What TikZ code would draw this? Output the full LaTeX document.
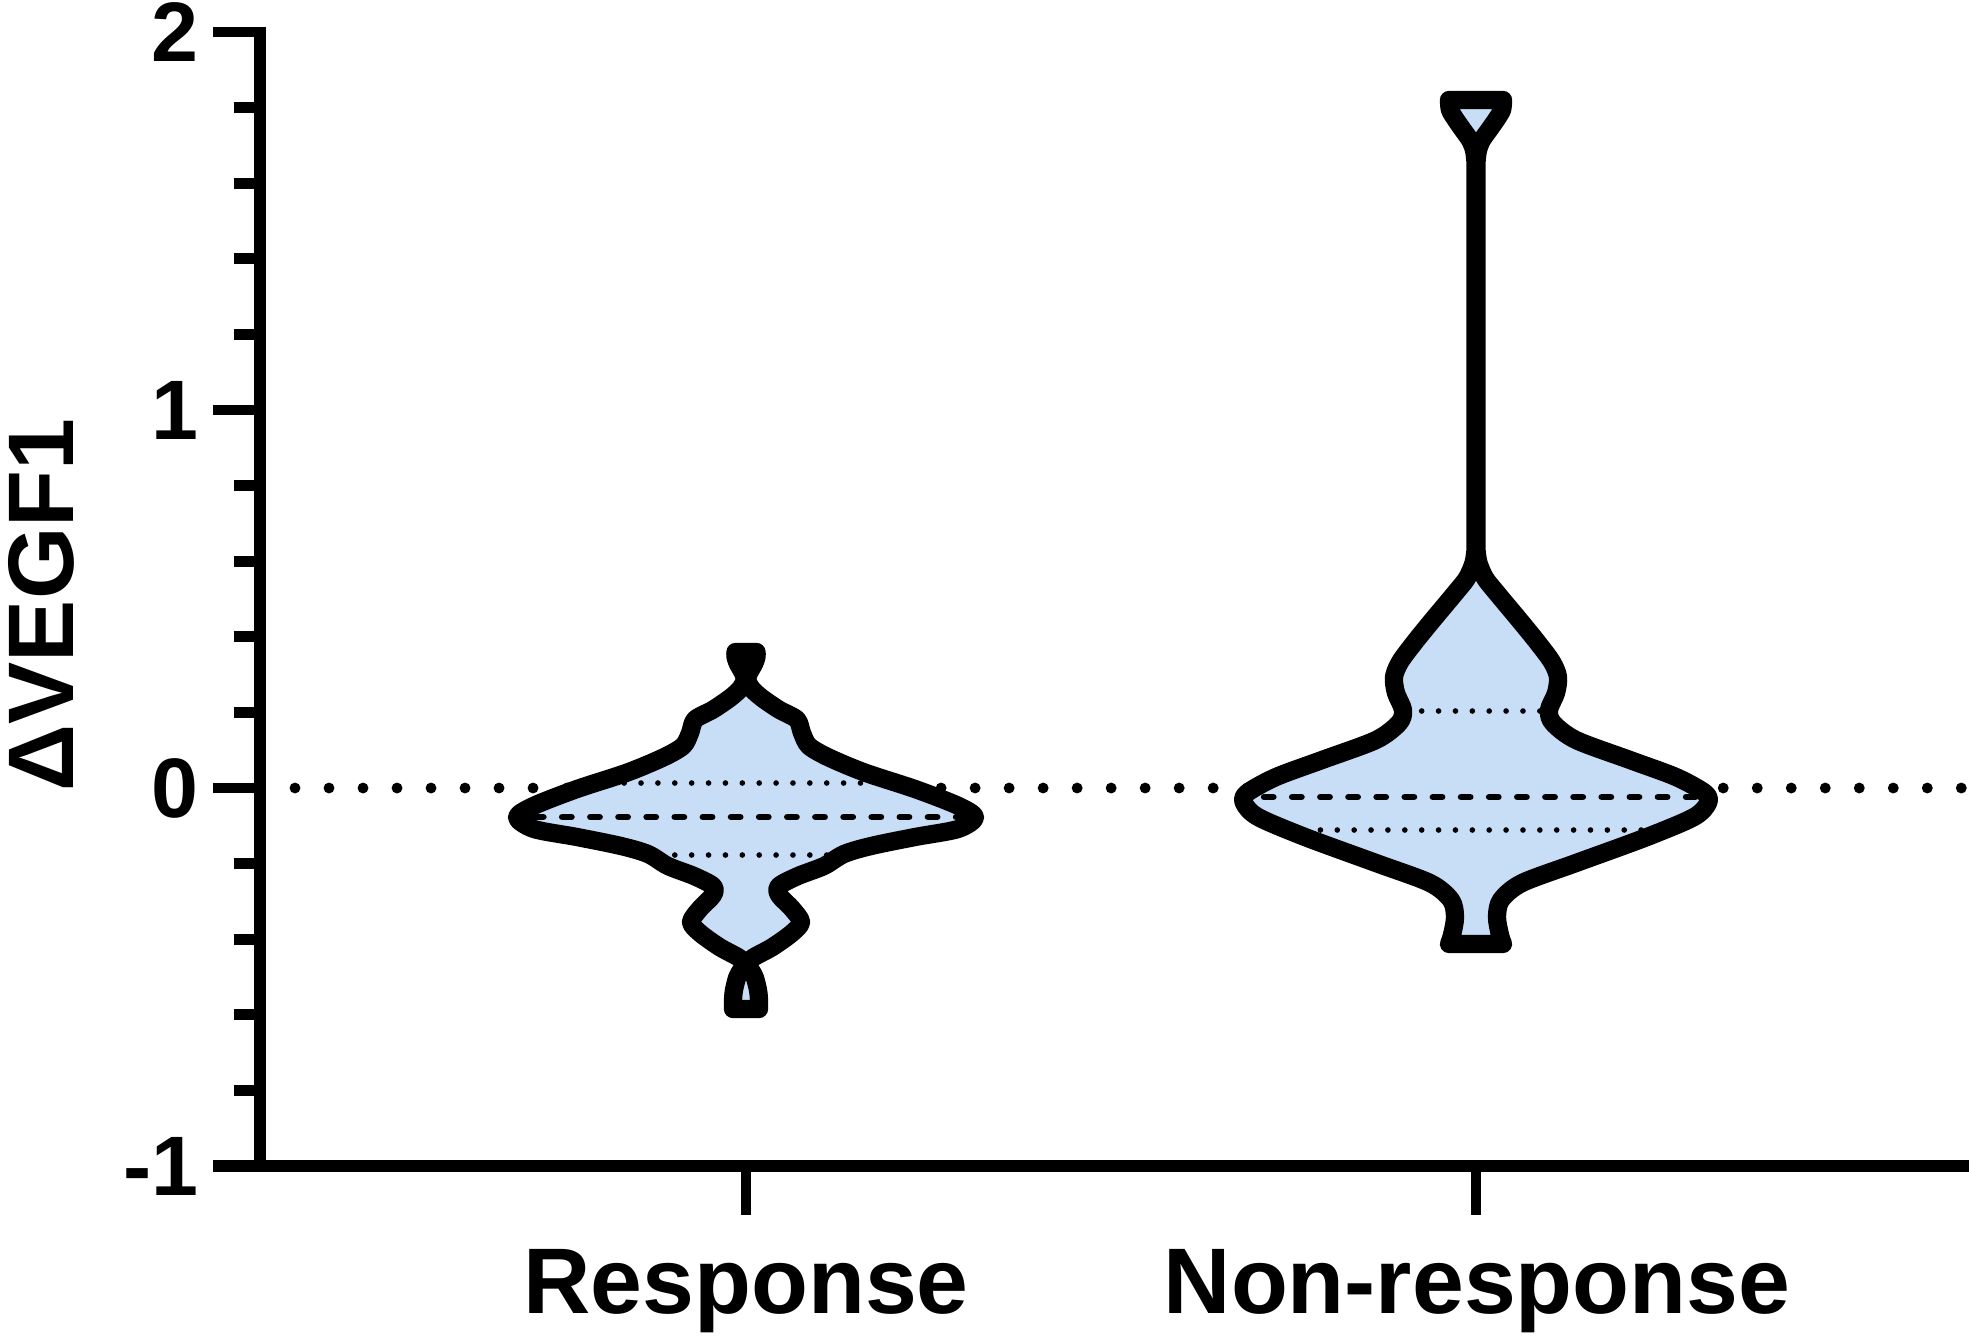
\documentclass[tikz,border=0pt]{standalone}
\usepackage{fontspec}
\setmainfont{Liberation Sans}
\definecolor{violinfill}{RGB}{200,222,247}

% outline of the two violins (centred on x=0)
\newcommand{\respviolin}{plot[smooth] coordinates {(10.5,652) (10.5,657) (8,664) (3,673) (1.3,680) (6,689) (16,698) (33,709.6) (51,719.5) (56,733) (63,746) (83,757.6) (119,772.6) (169,789) (212,805.7) (229,817.3) (212,829) (169,837) (125,846) (98,854) (78,866) (52,876) (33,886) (33,895) (46,908.6) (55,922) (46,933) (26.5,947) (6.6,958) (2,965) (6,972) (9,978) (12,990) (13,1000) (13,1009)}
  -- plot[smooth] coordinates {(-13,1009) (-13,1000) (-12,990) (-9,978) (-6,972) (-2,965) (-6.6,958) (-26.5,947) (-46,933) (-55,922) (-46,908.6) (-33,895) (-33,886) (-52,876) (-78,866) (-98,854) (-125,846) (-169,837) (-212,829) (-229,817.3) (-212,805.7) (-169,789) (-119,772.6) (-83,757.6) (-63,746) (-56,733) (-51,719.5) (-33,709.6) (-16,698) (-6,689) (-1.3,680) (-3,673) (-8,664) (-10.5,657) (-10.5,652)} -- cycle}
\newcommand{\nonrespviolin}{plot[smooth] coordinates {(27,100) (26,110) (20,120) (13,130) (6,140) (2,150) (0.5,162)}
  -- plot[smooth] coordinates {(0.5,550) (2.5,563) (9,578) (20,592) (45,622) (62,643) (76,662) (82,677) (80,693) (73,710) (77,723) (100,740) (154,760) (200,777) (229,793) (232,803) (218,817) (171,837) (100,863) (46,883) (25,900) (21,917) (24,935) (27,944)}
  -- plot[smooth] coordinates {(-27,944) (-24,935) (-21,917) (-25,900) (-46,883) (-100,863) (-171,837) (-218,817) (-232,803) (-229,793) (-200,777) (-154,760) (-100,740) (-77,723) (-73,710) (-80,693) (-82,677) (-76,662) (-62,643) (-45,622) (-20,592) (-9,578) (-2.5,563) (-0.5,550)}
  -- plot[smooth] coordinates {(-0.5,162) (-2,150) (-6,140) (-13,130) (-20,120) (-26,110) (-27,100)} -- cycle}

\begin{document}
\begin{tikzpicture}[x=0.01cm,y=-0.01cm,
    axisline/.style={line width=3.3pt},
    tickline/.style={line width=3.1pt},
    violin/.style={fill=violinfill,draw=black,line width=5.2pt,line join=round},
    median/.style={line width=1.9pt,dash pattern=on 2.6pt off 5.4pt,line cap=round},
    quartile/.style={line width=1.6pt,dash pattern=on 0pt off 4.8pt,line cap=round},
    zeroline/.style={line width=3.1pt,dash pattern=on 0pt off 9.67pt,line cap=round},
    ticklabel/.style={anchor=east,inner sep=0pt,font=\fontsize{24}{24}\selectfont\bfseries},
    grouplabel/.style={anchor=base,inner sep=0pt,font=\fontsize{26.5}{26.5}\selectfont\bfseries}]
    \useasboundingbox (0,0) rectangle (1969,1335);
    % dotted line at zero
    \draw[zeroline] (295,788) -- (1969,788);
    % Response
    \begin{scope}[shift={(746,0)}]
        \draw[violin] \respviolin;
        \clip \respviolin;
        \draw[quartile] (-240,783) -- (240,783);
        \draw[median] (-240,817) -- (240,817);
        \draw[quartile] (-240,855) -- (240,855);
    \end{scope}
    % Non-response
    \begin{scope}[shift={(1476,0)}]
        \draw[violin] \nonrespviolin;
        \clip \nonrespviolin;
        \draw[quartile] (-240,711) -- (240,711);
        \draw[median] (-240,797) -- (240,797);
        \draw[quartile] (-240,830) -- (240,830);
    \end{scope}
    % axes
    \draw[axisline] (260,26.5) -- (260,1166);
    \draw[axisline] (213,1166) -- (1969,1166);
    \foreach \y in {32,410,788}
        \draw[tickline] (213,\y) -- (260,\y);
    \foreach \k in {1,2,3,4,6,7,8,9,11,12,13,14}
        \draw[tickline] (233.5,{32+\k*75.6}) -- (260,{32+\k*75.6});
    \draw[tickline] (746,1166) -- (746,1215);
    \draw[tickline] (1476,1166) -- (1476,1215);
    % labels
    \node[ticklabel] (ltwo) at (199,32) {2};
    \node[ticklabel] (lone) at (199,410) {1};
    \node[ticklabel] (lzero) at (199,788) {0};
    \node[ticklabel] (lminus) at (199,1166) {-1};
    \node[grouplabel] (resp) at (746,1313) {Response};
    \node[grouplabel] (nonresp) at (1477,1313) {Non-response};
    \node[grouplabel,rotate=90] (ylab) at (73,605) {ΔVEGF1};
\end{tikzpicture}
\end{document}
